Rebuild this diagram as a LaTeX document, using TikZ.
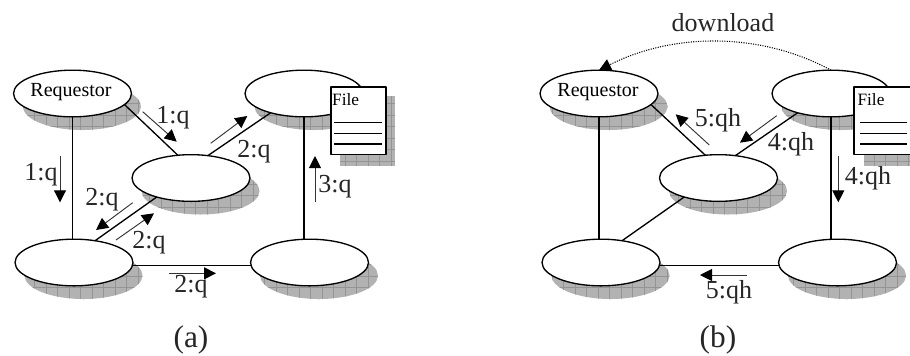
\documentclass[tikz,border=0pt]{standalone}
\usepackage{fontspec}
\setmainfont{Liberation Serif}
\usetikzlibrary{shapes.geometric,arrows.meta}
\definecolor{shadowfill}{gray}{.70}
\definecolor{shadowline}{gray}{.58}
\tikzset{
	peer/.style={ellipse,draw,fill=white,line width=1pt,minimum width=88.5pt,minimum height=35pt,inner sep=0pt,outer sep=0pt},
	link/.style={line width=1pt},
	hop/.style={line width=.7pt,black!80,-{Triangle[length=9pt,width=9pt,fill=black,color=black]}},
	hoplabel/.style={inner sep=0pt,text=black!85,font=\fontsize{19.5}{19.5}\selectfont},
	caption/.style={inner sep=0pt,text=black!85,font=\fontsize{23.5}{23.5}\selectfont},
	filebox/.style={rectangle,draw,fill=white,line width=1pt,inner sep=0pt,outer sep=0pt,minimum width=41.25pt,minimum height=50.5pt},
	filetext/.style={inner sep=0pt,font=\fontsize{13}{13}\selectfont},
	nametext/.style={inner sep=0pt,font=\fontsize{15}{15}\selectfont},
	shadowgrid/.style={shadowline,line width=.5pt,step=8.625pt}
}
\begin{document}
\begin{tikzpicture}[x=.75pt,y=-.75pt,line join=round]
	\clip (0,0) rectangle (910,355);
	\path
	(142.7,111.7)coordinate(Aas) (176.7,141.7)coordinate(Aae)
	(210.7,143.3)coordinate(Abs) (247.3,116)coordinate(Abe)
	(60,156)coordinate(Acs) (60,202.3)coordinate(Ace)
	(132.7,202.7)coordinate(Ads) (96,230)coordinate(Ade)
	(116,240)coordinate(Aes) (154,213.3)coordinate(Aee)
	(169.3,273.3)coordinate(Afs) (216,273.3)coordinate(Afe)
	(315,201.7)coordinate(Ags) (315,156)coordinate(Age)
	(709.3,145)coordinate(Bas) (675.7,114.3)coordinate(Bae)
	(776.7,115.7)coordinate(Bbs) (740,142.7)coordinate(Bbe)
	(838.3,155.7)coordinate(Bcs) (838.3,202.3)coordinate(Bce)
	(746.7,275)coordinate(Bds) (700,275)coordinate(Bde)
	;
	\foreach \x/\y in {72.5/93.5,304/93.5,191/178,74/262.5,309.5/262.5,599/93.5,831/93.5,718.5/178,601/262.5,837.5/262.5}{
		\begin{scope}
		\clip (\x+9.5,\y+13) ellipse (59 and 23.5);
		\fill[shadowfill] (\x-60,\y-20) rectangle (\x+80,\y+50);
		\draw[shadowgrid] (\x-60,\y-20) grid (\x+80,\y+50);
		\end{scope}
	}
	\foreach \x/\y/\w in {340/96/55,864/96/55}{
		\fill[shadowfill] (\x,\y) rectangle (\x+\w,166);
		\draw[shadowgrid] (\x,\y) grid (\x+\w,166);
	}
	\node[peer] (Ra) at (72.5,93.5) {};
	\node[peer] (Ta) at (304,93.5) {};
	\node[peer] (Ma) at (191,178) {};
	\node[peer] (La) at (74,262.5) {};
	\node[peer] (Ga) at (309.5,262.5) {};
	\node[peer] (Rb) at (599,93.5) {};
	\node[peer] (Tb) at (831,93.5) {};
	\node[peer] (Mb) at (718.5,178) {};
	\node[peer] (Lb) at (601,262.5) {};
	\node[peer] (Gb) at (837.5,262.5) {};
	\node[nametext] (Qa) at (71,92) {Requestor};
	\node[nametext] (Qb) at (598,92) {Requestor};
	\foreach \p in {a,b}{
		\draw[link] (R\p.-12) -- (M\p.120);
		\draw[link] (M\p.53) -- (T\p.210);
		\draw[link] (M\p.209) -- (L\p.46);
		\draw[link] (R\p.south) -- (R\p.south |- L\p.north);
		\draw[link] (T\p.south) -- (T\p.south |- G\p.north);
		\draw[link] (L\p.-3) -- (G\p.183);
	}
	\foreach \n in {Aa,Ab,Ac,Ad,Ae,Af,Ag,Ba,Bb,Bc,Bd}
	\draw[hop] (\n s) -- (\n e);
	\draw[line width=.8pt,densely dotted,-{Triangle[length=9pt,width=9pt]}] (Tb.north) .. controls +(-70,-38) and +(75,-38) .. (Rb.north);
	\node[filebox] (Fa) at (358.5,120.5) {};
	\node[filebox,minimum width=48pt] (Fb) at (886,120.5) {};
	\node[filetext] (Ta1) at (345.7,100) {File};
	\node[filetext] (Tb1) at (871,100) {File};
	\foreach \y in {122.7,133.3,144}{
		\draw[link] (334,\y) -- (382,\y);
		\draw[link] (860,\y) -- (907,\y);
	}
	\foreach \n/\x/\y/\t in {La1/173/118/1:q,La2/254/152/2:q,La3/41/175/1:q,La4/102/200/2:q,La5/149/243/2:q,La6/191/287/2:q,La7/335/187/3:q,Lb1/718/120/5:qh,Lb2/791/144/4:qh,Lb3/868/178/4:qh,Lb4/729/292/5:qh,Dn/723/23/download}
	\node[hoplabel] (\n) at (\x,\y) {\t};
	\node[caption] (Ca) at (191,340) {(a)};
	\node[caption] (Cb) at (718,340) {(b)};
\end{tikzpicture}
\end{document}
